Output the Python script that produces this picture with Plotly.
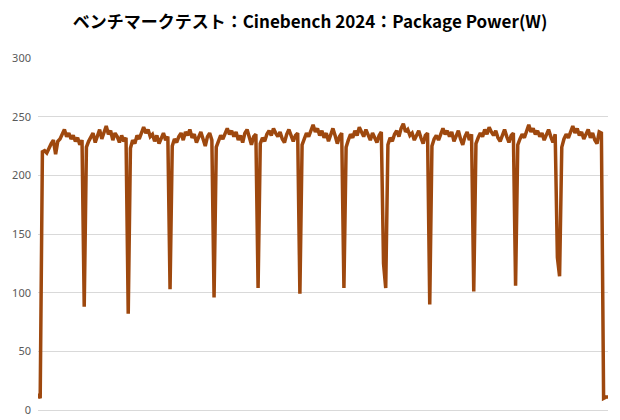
import plotly.graph_objects as go

title_text = "ベンチマークテスト：Cinebench 2024：Package Power(W)"
y_ticks = [0, 50, 100, 150, 200, 250, 300]

start_vals = [14, 10]
seg1 = [220, 221, 219, 224, 227, 230, 218, 229, 231, 235, 239, 233, 236, 231, 234, 229, 232, 226, 230]
seg2 = [224, 229, 233, 236, 228, 234, 239, 231, 237, 242, 235, 238, 230, 236, 233, 228, 234, 229, 232]
seg3 = [223, 230, 227, 234, 231, 237, 241, 236, 239, 233, 235, 229, 234, 227, 232, 236, 230, 233]
seg4 = [225, 231, 228, 233, 236, 230, 237, 234, 239, 232, 235, 228, 233, 237, 231, 225, 233, 236, 230]
seg5 = [224, 229, 234, 231, 236, 240, 235, 238, 233, 237, 230, 234, 228, 236, 239, 232, 226, 233, 235]
seg6 = [227, 232, 229, 235, 238, 234, 240, 236, 233, 237, 231, 228, 235, 239, 233, 229, 234, 236]
seg7 = [226, 231, 236, 233, 238, 243, 237, 240, 234, 238, 232, 236, 229, 235, 240, 234, 227, 233, 236]
seg8 = [224, 230, 235, 232, 238, 234, 241, 237, 233, 239, 235, 230, 236, 231, 228, 234, 237, 125]
seg9 = [226, 232, 229, 235, 238, 233, 240, 244, 237, 239, 234, 236, 230, 235, 238, 232, 227, 234, 236]
seg10 = [225, 231, 234, 230, 236, 240, 235, 238, 233, 237, 229, 234, 238, 231, 226, 233, 237, 230, 235]
seg11 = [227, 232, 236, 233, 239, 235, 241, 237, 234, 238, 232, 229, 235, 239, 233, 228, 234, 236]
seg12 = [226, 231, 235, 232, 238, 243, 237, 240, 235, 238, 233, 236, 230, 235, 239, 233, 228, 235, 130]
seg13 = [224, 231, 235, 232, 238, 242, 236, 240, 234, 237, 231, 235, 239, 232, 236, 230, 227, 237, 236]
end_vals = [10, 11, 11]
dips = [88, 82, 103, 96, 104, 99, 104, 104, 90, 101, 106, 114]

segments = [seg1, seg2, seg3, seg4, seg5, seg6, seg7, seg8, seg9, seg10, seg11, seg12, seg13]
power = list(start_vals)
for k, seg in enumerate(segments):
    power += seg
    if k < len(dips):
        power.append(dips[k])
power += end_vals
samples = list(range(len(power)))

fig = go.Figure()
fig.add_trace(go.Scatter(
    x=samples, y=power, mode="lines",
    line=dict(color="#9E480E", width=3.5),
    hoverinfo="skip",
))
fig.update_layout(
    width=612, height=412,
    margin=dict(l=30, r=12, t=50, b=10, autoexpand=False),
    paper_bgcolor="white", plot_bgcolor="white",
    showlegend=False,
    title=dict(text="<b>" + title_text + "</b>", x=0.4935, xanchor="center",
               xref="container", yref="container",
               y=0.966, yanchor="middle",
               font=dict(family="Noto Sans CJK JP", size=17, color="#000000")),
    xaxis=dict(range=[0, len(power) - 1], showgrid=False, showticklabels=False,
               zeroline=False, showline=False, ticks="", automargin=False),
    yaxis=dict(range=[0, 300], tickvals=y_ticks, showgrid=True, gridcolor="#D9D9D9",
               gridwidth=1, zeroline=True, zerolinecolor="#D9D9D9", zerolinewidth=1,
               showline=False, ticks="", automargin=False, ticklabelstandoff=6,
               tickfont=dict(family="Noto Sans", size=11, color="#595959")),
)
fig.write_html("out.html")
